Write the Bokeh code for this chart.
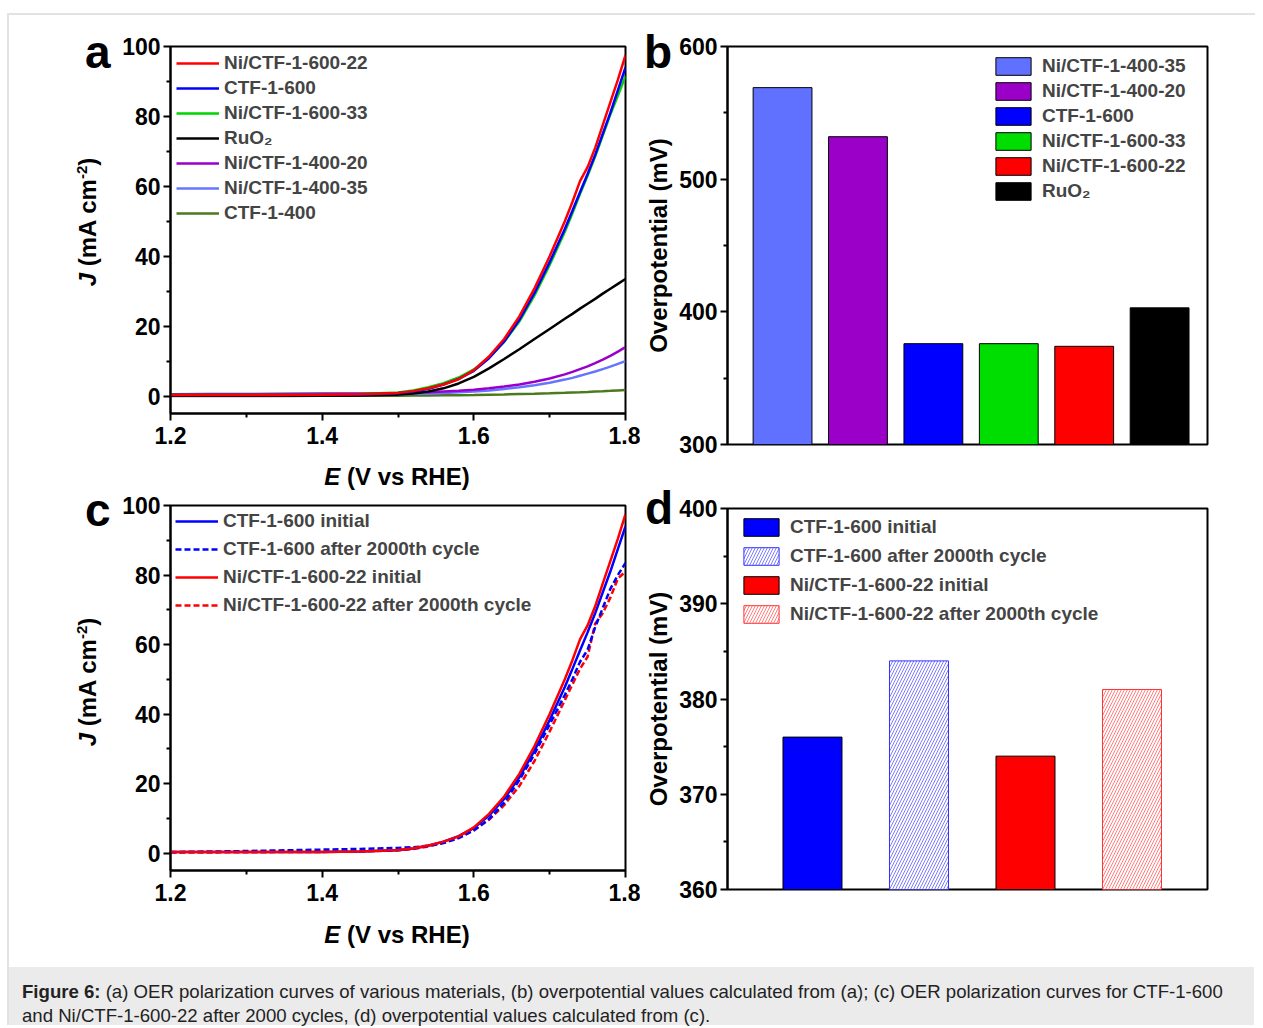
from bokeh.plotting import figure
from bokeh.models import Range1d, FixedTicker, Legend, LegendItem, ColumnDataSource, Div, Spacer
from bokeh.layouts import row, column
from bokeh.embed import file_html
from bokeh.resources import INLINE

FONT = "Liberation Sans"
CSS_FONT = "'Liberation Sans', Arial, sans-serif"

# ---------------- data ----------------
E = [1.20, 1.25, 1.30, 1.35, 1.40, 1.45, 1.50, 1.52, 1.54, 1.56, 1.58, 1.60, 1.62,
     1.64, 1.66, 1.68, 1.70, 1.72, 1.73, 1.74, 1.75, 1.76, 1.77, 1.78, 1.79, 1.80]

J_ni600_22 = [0.3, 0.3, 0.3, 0.3, 0.35, 0.5, 0.9, 1.4, 2.2, 3.3, 4.8, 7.4, 11.3,
              16.3, 22.8, 30.8, 40.0, 50.0, 55.5, 61.5, 65.5, 71.0, 77.5, 84.0, 90.5, 97.5]
J_ctf600 = [0.3, 0.3, 0.3, 0.3, 0.35, 0.45, 0.8, 1.3, 2.1, 3.3, 4.9, 7.2, 10.8,
            15.6, 21.8, 29.5, 38.3, 47.8, 53.0, 58.3, 63.5, 69.0, 75.0, 81.0, 87.5, 94.0]
J_ni600_33 = [0.4, 0.4, 0.4, 0.4, 0.45, 0.6, 1.0, 1.6, 2.5, 3.7, 5.3, 7.6, 11.0,
              15.5, 21.3, 28.8, 37.5, 47.0, 52.3, 57.8, 63.0, 68.5, 74.5, 80.5, 86.0, 91.5]
J_ruo2 = [0.1, 0.1, 0.1, 0.1, 0.1, 0.15, 0.4, 0.7, 1.3, 2.2, 3.6, 5.5, 7.9,
          10.6, 13.4, 16.3, 19.2, 22.1, 23.5, 25.0, 26.4, 27.8, 29.3, 30.7, 32.1, 33.5]
J_ni400_20 = [0.5, 0.55, 0.6, 0.65, 0.7, 0.75, 0.9, 1.0, 1.1, 1.3, 1.5, 1.8, 2.2,
              2.7, 3.3, 4.1, 5.0, 6.2, 6.9, 7.7, 8.5, 9.4, 10.4, 11.5, 12.7, 14.0]
J_ni400_35 = [0.4, 0.42, 0.45, 0.48, 0.5, 0.55, 0.6, 0.65, 0.75, 0.9, 1.05, 1.3, 1.6,
              2.0, 2.5, 3.1, 3.8, 4.7, 5.2, 5.8, 6.4, 7.0, 7.7, 8.4, 9.2, 10.0]
J_ctf400 = [0.0, 0.0, 0.02, 0.03, 0.05, 0.07, 0.1, 0.12, 0.15, 0.2, 0.25, 0.3, 0.38,
            0.45, 0.55, 0.65, 0.78, 0.92, 1.0, 1.08, 1.17, 1.27, 1.37, 1.48, 1.6, 1.72]

# panel c (after 2000 cycles)
J_ctf600_after = [0.3, 0.45, 0.6, 0.8, 1.0, 1.2, 1.5, 1.7, 2.1, 2.9, 4.3, 6.5, 9.8,
                  14.5, 21.0, 28.5, 37.0, 45.5, 50.0, 55.0, 58.5, 65.0, 70.5, 76.0, 80.0, 83.5]
J_ni600_22_after = [0.2, 0.2, 0.25, 0.3, 0.35, 0.5, 0.8, 1.2, 1.9, 3.0, 4.5, 6.6, 9.6,
                    13.8, 19.3, 26.5, 35.0, 44.0, 48.5, 53.0, 56.5, 66.0, 69.0, 73.5, 79.0, 81.0]

# panel b
cats_b = ["Ni/CTF-1-400-35", "Ni/CTF-1-400-20", "CTF-1-600", "Ni/CTF-1-600-33", "Ni/CTF-1-600-22", "RuO\u2082"]
eta_b = [569, 532, 376, 376, 374, 403]

# panel d
cats_d = ["CTF-1-600 initial", "CTF-1-600 after 2000th cycle",
          "Ni/CTF-1-600-22 initial", "Ni/CTF-1-600-22 after 2000th cycle"]
eta_d = [376, 384, 374, 381]

x_ticks = [1.2, 1.4, 1.6, 1.8]
x_minor = [1.3, 1.5, 1.7]
j_ticks = [0, 20, 40, 60, 80, 100]
j_minor = [10, 30, 50, 70, 90]
b_ticks = [300, 400, 500, 600]
b_minor = [350, 450, 550]
d_ticks = [360, 370, 380, 390, 400]
d_minor = [365, 375, 385, 395]

panel_letters = ["a", "b", "c", "d"]
x_label_html = "<i>E</i> (V vs RHE)"
y_label_html = ("<i>J</i> (mA cm<span style='font-size:15px;vertical-align:9px;"
                "line-height:0'>-2</span>)")

# ---------------- styles ----------------
RED, BLUE, GREEN, BLACK = "#ff0000", "#0000ff", "#00d400", "#000000"
PURPLE, LBLUE, OLIVE = "#9900cc", "#6674ff", "#4a7a1c"
colors_b = ["#6070ff", "#9b00c8", "#0000ff", "#00dd00", "#ff0000", "#000000"]


def style(p):
    p.grid.visible = False
    p.outline_line_color = "black"
    p.outline_line_width = 2
    p.outline_line_alpha = 1
    p.background_fill_color = "white"
    p.border_fill_color = "white"
    for ax in p.axis:
        ax.axis_line_width = 2
        ax.major_tick_line_width = 2
        ax.minor_tick_line_width = 2
        ax.major_tick_out = 7
        ax.major_tick_in = 0
        ax.minor_tick_out = 4
        ax.minor_tick_in = 0
        ax.major_label_text_font = FONT
        ax.major_label_text_font_style = "bold"
        ax.major_label_text_font_size = "23px"
        ax.major_label_text_color = "black"
        ax.major_label_standoff = 3
        ax.axis_label_text_font = FONT
        ax.axis_label_text_font_style = "bold"
        ax.axis_label_text_font_size = "24px"
        ax.axis_label_text_color = "black"


def overlay_div(html, left, top, width, height, size, extra=None):
    st = {"position": "absolute", "left": f"{left}px", "top": f"{top}px",
          "font-family": CSS_FONT, "font-weight": "bold", "font-size": f"{size}px",
          "line-height": f"{height}px", "color": "black", "z-index": "10",
          "white-space": "nowrap"}
    if extra:
        st.update(extra)
    return Div(text=html, width=width, height=height, margin=0, styles=st)


def lsv_figure(min_top, frame_h, height, series):
    p = figure(width=631, height=height, x_range=Range1d(1.2, 1.8), y_range=Range1d(-5, 100),
               output_backend="svg", toolbar_location=None,
               min_border_left=161, min_border_right=15, min_border_top=min_top,
               min_border_bottom=height - min_top - frame_h)
    style(p)
    p.xaxis.ticker = FixedTicker(ticks=x_ticks, minor_ticks=x_minor)
    p.yaxis.ticker = FixedTicker(ticks=j_ticks, minor_ticks=j_minor)
    p.xaxis.major_label_standoff = 6
    items = {}
    for name, ys, col, dash in series:
        r = p.line(E, ys, line_color=col, line_width=2.5, line_dash=dash)
        items[name] = r
    return p, items


def make_legend(items, order, spacing, margin, padding):
    return Legend(items=[LegendItem(label=n, renderers=[items[n]]) for n in order],
                  location="top_left", border_line_color=None, background_fill_alpha=0,
                  label_text_font=FONT, label_text_font_style="bold", label_text_font_size="19px",
                  glyph_width=43, glyph_height=20, label_height=20, spacing=spacing,
                  padding=padding, margin=margin, label_standoff=5)


# ---------------- panel a ----------------
series_a = [
    ("CTF-1-400", J_ctf400, OLIVE, "solid"),
    ("Ni/CTF-1-400-35", J_ni400_35, LBLUE, "solid"),
    ("Ni/CTF-1-400-20", J_ni400_20, PURPLE, "solid"),
    ("RuO\u2082", J_ruo2, BLACK, "solid"),
    ("Ni/CTF-1-600-33", J_ni600_33, GREEN, "solid"),
    ("CTF-1-600", J_ctf600, BLUE, "solid"),
    ("Ni/CTF-1-600-22", J_ni600_22, RED, "solid"),
]
pa, ra = lsv_figure(31, 367, 477, series_a)
order_a = ["Ni/CTF-1-600-22", "CTF-1-600", "Ni/CTF-1-600-33", "RuO\u2082",
           "Ni/CTF-1-400-20", "Ni/CTF-1-400-35", "CTF-1-400"]
pa.add_layout(make_legend(ra, order_a, 3, 6, 3))

# ---------------- panel c ----------------
series_c = [
    ("Ni/CTF-1-600-22 after 2000th cycle", J_ni600_22_after, RED, "6 3"),
    ("CTF-1-600 after 2000th cycle", J_ctf600_after, BLUE, "6 3"),
    ("CTF-1-600 initial", J_ctf600, BLUE, "solid"),
    ("Ni/CTF-1-600-22 initial", J_ni600_22, RED, "solid"),
]
pc, rc = lsv_figure(13, 365, 475, series_c)
order_c = ["CTF-1-600 initial", "CTF-1-600 after 2000th cycle",
           "Ni/CTF-1-600-22 initial", "Ni/CTF-1-600-22 after 2000th cycle"]
pc.add_layout(make_legend(rc, order_c, 6, 5, 3))

# ---------------- panel b ----------------
pb = figure(width=615, height=480, x_range=Range1d(-0.73, 5.635), y_range=Range1d(300, 600),
            output_backend="svg", toolbar_location=None,
            min_border_left=87, min_border_right=47, min_border_top=31, min_border_bottom=51)
style(pb)
pb.xaxis.visible = False
pb.yaxis.ticker = FixedTicker(ticks=b_ticks, minor_ticks=b_minor)
pb.yaxis.axis_label = "Overpotential (mV)"
pb.yaxis.axis_label_standoff = 4
src_b = ColumnDataSource(dict(x=list(range(len(cats_b))), top=eta_b, cat=cats_b, color=colors_b))
pb.vbar(x="x", top="top", bottom=300, width=0.78, fill_color="color", line_color="black",
        line_width=1, source=src_b, legend_field="cat")
lb = pb.legend[0]
lb.location = (264, 242)
lb.border_line_color = None
lb.background_fill_alpha = 0
lb.label_text_font = FONT
lb.label_text_font_style = "bold"
lb.label_text_font_size = "19px"
lb.glyph_width = 44
lb.glyph_height = 22
lb.label_height = 22
lb.spacing = 3
lb.padding = 4
lb.margin = 0
lb.label_standoff = 7

# ---------------- panel d ----------------
pd_ = figure(width=615, height=472, x_range=Range1d(-0.798, 3.709), y_range=Range1d(360, 400),
             output_backend="svg", toolbar_location=None,
             min_border_left=87, min_border_right=48, min_border_top=13, min_border_bottom=78)
style(pd_)
pd_.xaxis.visible = False
pd_.yaxis.ticker = FixedTicker(ticks=d_ticks, minor_ticks=d_minor)
pd_.yaxis.axis_label = "Overpotential (mV)"
pd_.yaxis.axis_label_standoff = 4
src_d = ColumnDataSource(dict(
    x=list(range(len(cats_d))), top=eta_d, cat=cats_d,
    fill=["#0000ff", "#ffffff", "#ff0000", "#ffffff"],
    line=["#000000", "#3333ff", "#000000", "#ff3333"],
    hatch=[" ", "/", " ", "/"],
    hcol=["#0000ff", "#4444ff", "#ff0000", "#ff4444"],
))
pd_.vbar(x="x", top="top", bottom=360, width=0.554, fill_color="fill", line_color="line",
         line_width=1, hatch_pattern="hatch", hatch_color="hcol", hatch_scale=6, hatch_weight=0.7,
         source=src_d, legend_field="cat")
ld = pd_.legend[0]
ld.location = (12, 264)
ld.border_line_color = None
ld.background_fill_alpha = 0
ld.label_text_font = FONT
ld.label_text_font_style = "bold"
ld.label_text_font_size = "19px"
ld.glyph_width = 44
ld.glyph_height = 22
ld.label_height = 22
ld.spacing = 7
ld.padding = 4
ld.margin = 0
ld.label_standoff = 7

# ---------------- caption ----------------
caption = Div(
    text=("<b>Figure 6:</b> (a) OER polarization curves of various materials, (b) overpotential values "
          "calculated from (a); (c) OER polarization curves for CTF-1-600<br>and Ni/CTF-1-600-22 after "
          "2000 cycles, (d) overpotential values calculated from (c)."),
    width=1245, height=58, margin=0,
    styles={"background-color": "#ebebeb", "font-family": CSS_FONT,
            "font-size": "18.6px", "color": "#222222", "line-height": "24px",
            "padding": "13px 0 0 13px", "box-sizing": "border-box", "white-space": "nowrap"})

# overlays: panel letters and axis titles with italic symbols
overlays = [
    overlay_div(panel_letters[0], 76, 14, 40, 46, 46),
    overlay_div(panel_letters[1], 635, 14, 40, 46, 46),
    overlay_div(panel_letters[2], 76, 472, 40, 46, 46),
    overlay_div(panel_letters[3], 636, 470, 40, 46, 46),
    overlay_div(x_label_html, 238, 450, 300, 24, 24, {"text-align": "center"}),
    overlay_div(x_label_html, 238, 908, 300, 24, 24, {"text-align": "center"}),
    overlay_div(y_label_html, -21, 192, 200, 30, 24,
                {"text-align": "center", "transform": "rotate(-90deg)"}),
    overlay_div(y_label_html, -21, 652, 200, 30, 24,
                {"text-align": "center", "transform": "rotate(-90deg)"}),
]

plots = row(column(pa, pc), column(pb, pd_))
inner = column(plots, caption, *overlays,
               styles={"border-top": "2px solid #e2e2e2", "border-left": "2px solid #e2e2e2",
                       "position": "relative"})
layout = column(Spacer(height=13), row(Spacer(width=7), inner))

open("out.html", "w").write(file_html(layout, INLINE))
